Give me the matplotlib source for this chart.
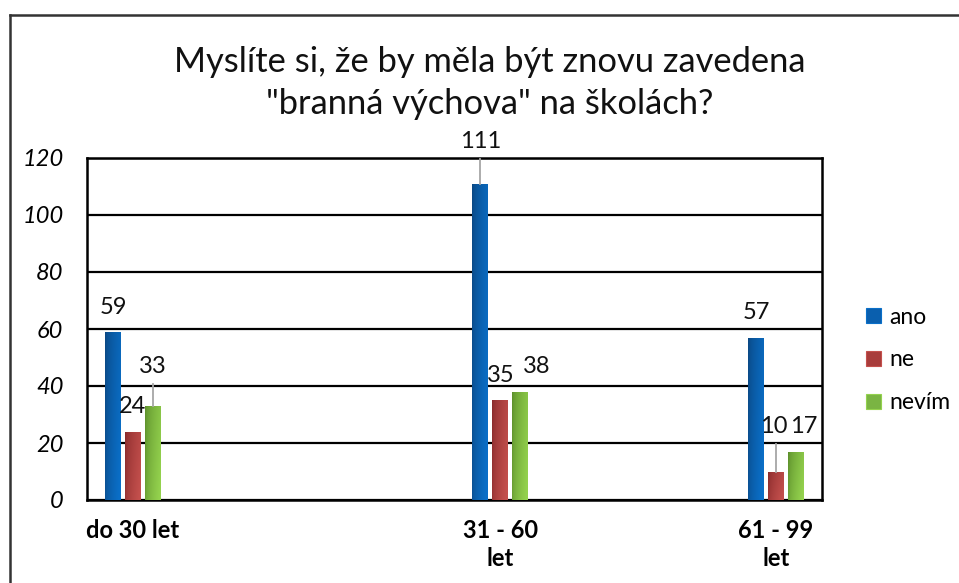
import matplotlib.pyplot as plt
import numpy as np
from matplotlib.colors import LinearSegmentedColormap
from matplotlib.lines import Line2D

plt.rcParams['font.family'] = ['Lato', 'DejaVu Sans']

# data
categories = ["do 30 let", "31 - 60\nlet", "61 - 99\nlet"]
cat_slots = [0, 4, 7]          # slots on an 8-slot category axis
series = ["ano", "ne", "nevím"]
ano = [59, 111, 57]
ne = [24, 35, 10]
nevim = [33, 38, 17]
values = [ano, ne, nevim]

title = 'Myslíte si, že by měla být znovu zavedena\n"branná výchova" na školách?'

# style
grad = {
    "ano": ("#0b4680", "#0a6fc8"),
    "ne": ("#86292a", "#c4504d"),
    "nevím": ("#5a8c2a", "#94d24e"),
}
legend_col = {"ano": "#0a5fae", "ne": "#a83c3b", "nevím": "#7ab443"}
# moved labels: (series index, category index) -> (dx, extra dy, leader)
label_moves = {
    (2, 0): (0.0, 5.0, True),
    (0, 1): (0.0, 6.0, True),
    (2, 1): (0.18, 0.0, False),
    (1, 2): (-0.02, 7.0, True),
    (2, 2): (0.085, 0.0, False),
}

fig = plt.figure(figsize=(9.59, 5.83), dpi=100)
ax = fig.add_axes([87 / 959, 83 / 583, 735 / 959, 342 / 583])

# outer chart frame (top & left visible)
fig.add_artist(Line2D([10 / 959, 10 / 959], [0, 1 - 15 / 583], color="#333333", lw=1.8,
                      transform=fig.transFigure))
fig.add_artist(Line2D([10 / 959, 1], [1 - 15 / 583, 1 - 15 / 583], color="#333333", lw=1.8,
                      transform=fig.transFigure))

width = 0.174
step = 0.2175
centers = np.array(cat_slots) + 0.5

for si, name in enumerate(series):
    xs = centers + (si - 1) * step
    bars = ax.bar(xs, values[si], width=width, color=legend_col[name], zorder=3)
    cmap = LinearSegmentedColormap.from_list(name, grad[name])
    gx, gy = np.meshgrid(np.linspace(0, 1, 40), np.linspace(0, 1, 60))
    g = np.clip(0.8 * gx ** 0.6 + 0.25 * (1 - gy), 0, 1)
    for b in bars:
        x0, w, h = b.get_x(), b.get_width(), b.get_height()
        im = ax.imshow(g, cmap=cmap, extent=[x0, x0 + w, h, 0], origin="upper",
                       aspect="auto", zorder=4, vmin=0, vmax=1)
        im.set_clip_path(b)
    for ci, v in enumerate(values[si]):
        dx, dy, leader = label_moves.get((si, ci), (0.0, 0.0, False))
        ly = v + 8.7 + dy
        ax.text(xs[ci] + dx, ly, str(v), ha="center", va="center", fontsize=17,
                color="#111111", zorder=6)
        if leader:
            ax.plot([xs[ci], xs[ci]], [v, ly - 6], color="#a6a6a6", lw=1.3, zorder=5)

ax.set_xlim(0, 8)
ax.set_ylim(0, 120)
ax.set_yticks(range(0, 121, 20))
ax.set_yticklabels([str(t) for t in range(0, 121, 20)], fontsize=17, style="italic")
ax.yaxis.grid(True, color="black", lw=1.6, zorder=1)
ax.set_axisbelow(True)
ax.tick_params(axis="y", length=0, pad=17)
ax.set_xticks(centers)
ax.set_xticklabels(categories, fontsize=17, fontweight="bold", linespacing=1.25)
ax.tick_params(axis="x", length=0, pad=14)
for sp in ax.spines.values():
    sp.set_linewidth(1.8)
    sp.set_color("black")

fig.text(490 / 959, 1 - 83 / 583, title, ha="center", va="center", fontsize=24.8,
         linespacing=1.35, color="#111111")

handles = [plt.Rectangle((0, 0), 1, 1, facecolor=legend_col[n], edgecolor=grad[n][1], lw=0.8)
           for n in series]
fig.legend(handles, series, loc="center left", bbox_to_anchor=(845 / 959, 1 - 360 / 583),
           frameon=False, fontsize=16.5, handlelength=0.65, handleheight=0.65,
           handletextpad=0.4, labelspacing=0.95)

fig.savefig("out.png", dpi=100, facecolor="white")
